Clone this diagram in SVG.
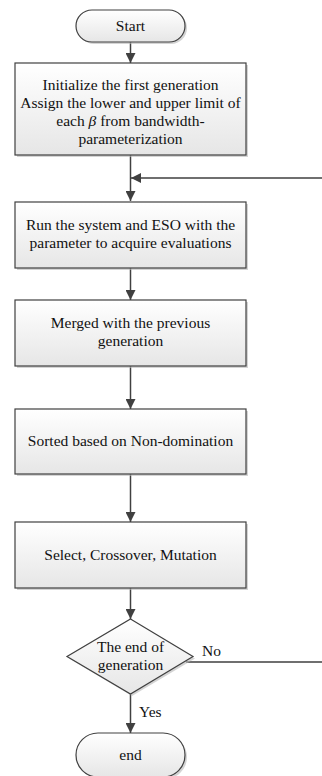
<svg xmlns="http://www.w3.org/2000/svg" width="322" height="776" viewBox="0 0 322 776">
<defs>
<linearGradient id="g" x1="0" y1="0" x2="0" y2="1">
<stop offset="0" stop-color="#ffffff"/>
<stop offset="1" stop-color="#e6e6e6"/>
</linearGradient>
<marker id="ah" markerWidth="10" markerHeight="10" refX="10" refY="5" orient="auto" markerUnits="userSpaceOnUse">
<path d="M0,0 L10,5 L0,10 Z" fill="#404040"/>
</marker>
</defs>
<style>
.box{fill:url(#g);stroke:#404040;stroke-width:1.2}
.sh{fill:#b8b8b8;opacity:0.6}
text{font-family:'Liberation Serif','Times New Roman',serif;font-size:15.5px;fill:#111}
.t{text-anchor:middle}
.c{fill:none;stroke:#404040;stroke-width:1.5}
</style>
<rect width="322" height="776" fill="#ffffff"/>
<g id="connectors">
<line class="c" x1="130.5" y1="42" x2="130.5" y2="63" marker-end="url(#ah)"/>
<line class="c" x1="130.5" y1="155" x2="130.5" y2="201" marker-end="url(#ah)"/>
<polyline class="c" points="186,662 326,662 326,178 131,178" marker-end="url(#ah)"/>
<line class="c" x1="130.5" y1="268" x2="130.5" y2="300" marker-end="url(#ah)"/>
<line class="c" x1="130.5" y1="366" x2="130.5" y2="409" marker-end="url(#ah)"/>
<line class="c" x1="130.5" y1="474" x2="130.5" y2="522" marker-end="url(#ah)"/>
<line class="c" x1="130.5" y1="588" x2="130.5" y2="619" marker-end="url(#ah)"/>
<line class="c" x1="130.5" y1="694" x2="130.5" y2="733" marker-end="url(#ah)"/>
<text x="202" y="656">No</text>
<text x="139" y="717">Yes</text>
</g>
<g id="start">
<rect class="sh" x="78" y="12" width="109" height="32" rx="16"/>
<rect class="box" x="76" y="10" width="109" height="32" rx="16"/>
<text class="t" x="130.5" y="31">Start</text>
</g>
<g id="init">
<rect class="sh" x="17" y="65" width="231" height="92"/>
<rect class="box" x="15" y="63" width="231" height="92"/>
<text class="t" x="130.5" y="90">Initialize the first generation</text>
<text class="t" x="130.5" y="108">Assign the lower and upper limit of</text>
<text class="t" x="130.5" y="126">each <tspan font-style="italic">β</tspan> from bandwidth-</text>
<text class="t" x="130.5" y="144">parameterization</text>
</g>
<g id="run">
<rect class="sh" x="17" y="204" width="231" height="66"/>
<rect class="box" x="15" y="202" width="231" height="66"/>
<text class="t" x="130.5" y="230">Run the system and ESO with the</text>
<text class="t" x="130.5" y="248">parameter to acquire evaluations</text>
</g>
<g id="merge">
<rect class="sh" x="17" y="302" width="231" height="66"/>
<rect class="box" x="15" y="300" width="231" height="66"/>
<text class="t" x="130.5" y="328">Merged with the previous</text>
<text class="t" x="130.5" y="346">generation</text>
</g>
<g id="sort">
<rect class="sh" x="17" y="411" width="231" height="65"/>
<rect class="box" x="15" y="409" width="231" height="65"/>
<text class="t" x="130.5" y="446">Sorted based on Non-domination</text>
</g>
<g id="select">
<rect class="sh" x="17" y="524" width="231" height="66"/>
<rect class="box" x="15" y="522" width="231" height="66"/>
<text class="t" x="130.5" y="560">Select, Crossover, Mutation</text>
</g>
<g id="decision">
<polygon class="sh" points="132,621 195,658.5 132,696 69,658.5"/>
<polygon class="box" points="130.5,619 193,656.5 130.5,694 67,656.5"/>
<text class="t" x="130.5" y="652">The end of</text>
<text class="t" x="130.5" y="670">generation</text>
</g>
<g id="end">
<rect class="sh" x="78" y="735" width="109" height="44" rx="22"/>
<rect class="box" x="76" y="733" width="109" height="44" rx="22"/>
<text class="t" x="130.5" y="760">end</text>
</g>
</svg>
